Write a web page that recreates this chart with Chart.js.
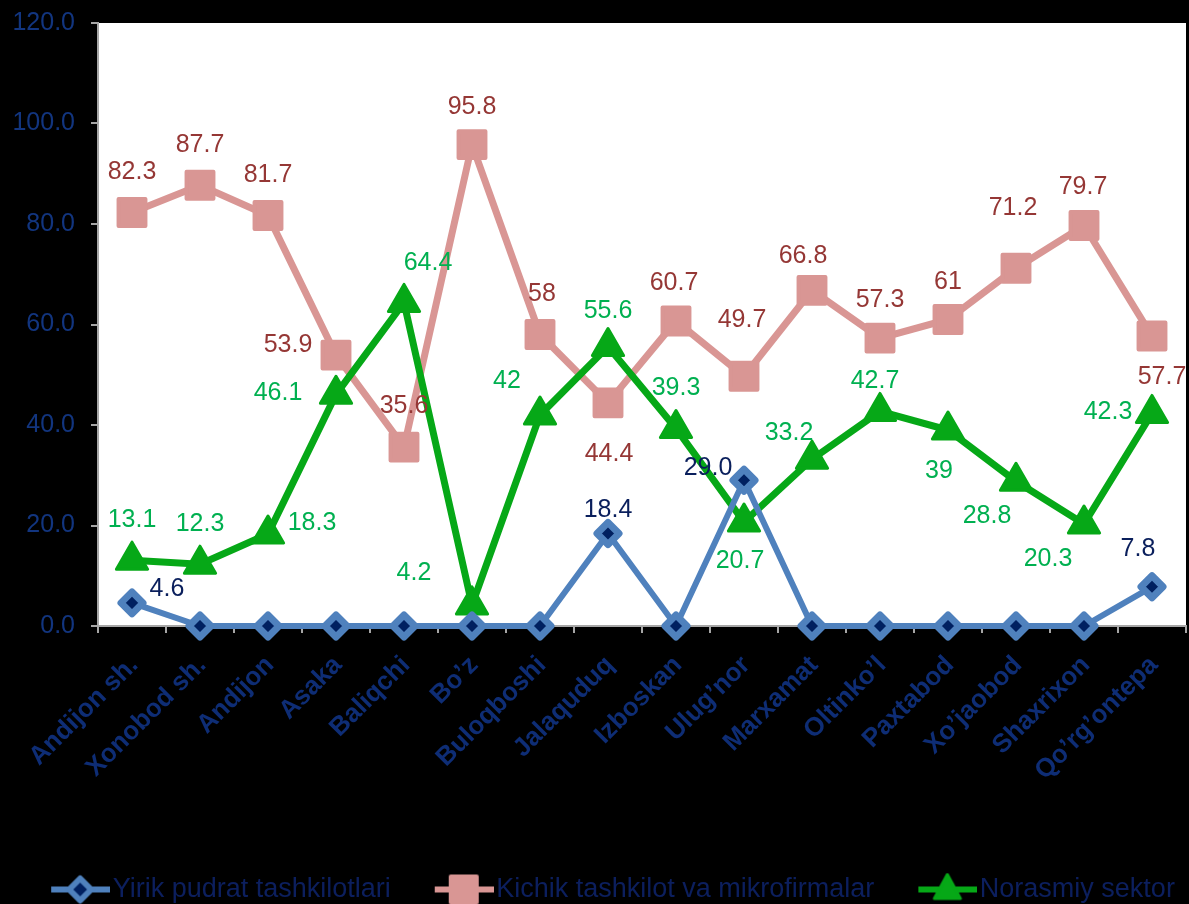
<!DOCTYPE html>
<html>
<head>
<meta charset="utf-8">
<script src="https://cdn.jsdelivr.net/npm/chart.js@4/dist/chart.umd.min.js"></script>
<style>
  html, body { margin: 0; padding: 0; background: #000; }
  #wrap { width: 1189px; height: 904px; }
</style>
</head>
<body>
<div id="wrap"><canvas id="chart"></canvas></div>
<script>
// data
const categories = ['Andijon sh.', 'Xonobod sh.', 'Andijon', 'Asaka', 'Baliqchi', 'Bo’z', 'Buloqboshi',
  'Jalaquduq', 'Izboskan', 'Ulug’nor', 'Marxamat', 'Oltinko’l', 'Paxtabod', 'Xo’jaobod', 'Shaxrixon', 'Qo’rg’ontepa'];
const seriesNames = ['Yirik pudrat tashkilotlari', 'Kichik tashkilot va mikrofirmalar', 'Norasmiy sektor'];
const yirikValues = [4.6, 0, 0, 0, 0, 0, 0, 18.4, 0, 29.0, 0, 0, 0, 0, 0, 7.8];
const kichikValues = [82.3, 87.7, 81.7, 53.9, 35.6, 95.8, 58, 44.4, 60.7, 49.7, 66.8, 57.3, 61, 71.2, 79.7, 57.7];
const norasmiyValues = [13.1, 12.3, 18.3, 46.1, 64.4, 4.2, 42, 55.6, 39.3, 20.7, 33.2, 42.7, 39, 28.8, 20.3, 42.3];
const yMin = 0, yMax = 120, yStep = 20;

// where each value label sits relative to its marker (px); null = no label
const yirikLabelPos = [[35, -14], null, null, null, null, null, null, [0, -23], null, [-36, -12],
  null, null, null, null, null, [-14, -38]];
const kichikLabelPos = [[0, -40], [0, -40], [0, -40], [-48, -10], [0, -41], [0, -37], [2, -40], [1, 51],
  [-2, -38], [-2, -56], [-9, -34], [0, -38], [0, -37], [-3, -60], [-1, -38], [10, 41]];
const norasmiyLabelPos = [[0, -40], [0, -40], [44, -11], [-58, -1], [24, -39], [-58, -32], [-33, -34], [0, -36],
  [0, -40], [-4, 39], [-23, -26], [-5, -30], [-9, 41], [-29, 35], [-36, 35], [-44, -1]];

const BLUE = '#4F81BD', NAVY = '#002060', PINK = '#D99694', GREEN = '#06A817';
const TEXT_BLUE = '#0E2D75';
const FONT = '"Liberation Sans", Arial, sans-serif';

// legend swatch: a short line with the marker in its middle
function legendSwatch(kind) {
  const c = document.createElement('canvas');
  c.width = 110; c.height = 34;
  const g = c.getContext('2d');
  const x0 = 51, x1 = 110, cx = 80, cy = 17;
  g.lineJoin = 'round';
  g.lineWidth = 6;
  g.strokeStyle = kind === 'blue' ? BLUE : kind === 'pink' ? PINK : GREEN;
  g.beginPath(); g.moveTo(x0, cy); g.lineTo(x1, cy); g.stroke();
  if (kind === 'blue') {
    g.beginPath();
    g.moveTo(cx - 11, cy); g.lineTo(cx, cy - 11); g.lineTo(cx + 11, cy); g.lineTo(cx, cy + 11); g.closePath();
    g.fillStyle = NAVY; g.fill(); g.lineWidth = 6; g.stroke();
  } else if (kind === 'pink') {
    g.fillStyle = PINK; g.lineWidth = 4; g.strokeStyle = PINK;
    g.beginPath(); g.rect(cx - 13, cy - 13, 26, 26); g.fill(); g.stroke();
  } else {
    g.fillStyle = GREEN; g.lineWidth = 3;
    g.beginPath(); g.moveTo(cx, cy - 15); g.lineTo(cx + 13, cy + 9); g.lineTo(cx - 13, cy + 9); g.closePath();
    g.fill(); g.stroke();
  }
  return c;
}
const swatches = [legendSwatch('blue'), legendSwatch('pink'), legendSwatch('green')];

const backgroundPlugin = {
  id: 'bg',
  beforeDraw(chart) {
    const { ctx, chartArea: a } = chart;
    ctx.save();
    ctx.fillStyle = '#000';
    ctx.fillRect(0, 0, chart.width, chart.height);
    ctx.fillStyle = '#fff';
    ctx.fillRect(a.left, a.top, a.right - a.left, a.bottom - a.top);
    ctx.restore();
  }
};

const roundJoinPlugin = {
  id: 'roundJoin',
  beforeDatasetsDraw(chart) { chart.ctx.save(); chart.ctx.lineJoin = 'round'; },
  afterDatasetsDraw(chart) { chart.ctx.restore(); }
};

const valueLabelPlugin = {
  id: 'valueLabels',
  afterDatasetsDraw(chart) {
    const ctx = chart.ctx;
    ctx.save();
    ctx.font = '25px ' + FONT;
    ctx.textAlign = 'center';
    ctx.textBaseline = 'middle';
    chart.data.datasets.forEach((ds, i) => {
      const meta = chart.getDatasetMeta(i);
      ds.labelPos.forEach((p, j) => {
        if (!p) return;
        const pt = meta.data[j];
        ctx.fillStyle = ds.labelColor;
        ctx.fillText(ds.labelText(ds.data[j]), pt.x + p[0], pt.y + p[1]);
      });
    });
    ctx.restore();
  }
};

new Chart(document.getElementById('chart'), {
  type: 'line',
  data: {
    labels: categories,
    datasets: [
      {
        label: seriesNames[0],
        data: yirikValues,
        order: 0,
        borderColor: BLUE,
        borderWidth: 6,
        pointStyle: 'rectRot',
        pointRadius: 11,
        pointHoverRadius: 11,
        pointBorderWidth: 7,
        pointBackgroundColor: NAVY,
        pointBorderColor: BLUE,
        tension: 0,
        clip: false,
        labelPos: yirikLabelPos,
        labelColor: '#0A1F5C',
        labelText: v => v.toFixed(1)
      },
      {
        label: seriesNames[1],
        data: kichikValues,
        order: 2,
        borderColor: PINK,
        borderWidth: 7,
        pointStyle: 'rect',
        pointRadius: 19,
        pointHoverRadius: 19,
        pointBorderWidth: 4,
        pointBackgroundColor: PINK,
        pointBorderColor: PINK,
        tension: 0,
        clip: false,
        labelPos: kichikLabelPos,
        labelColor: '#953735',
        labelText: v => String(v)
      },
      {
        label: seriesNames[2],
        data: norasmiyValues,
        order: 1,
        borderColor: GREEN,
        borderWidth: 7,
        pointStyle: 'triangle',
        pointRadius: 18,
        pointHoverRadius: 18,
        pointBorderWidth: 3,
        pointBackgroundColor: GREEN,
        pointBorderColor: GREEN,
        tension: 0,
        clip: false,
        labelPos: norasmiyLabelPos,
        labelColor: '#00B050',
        labelText: v => String(v)
      }
    ]
  },
  options: {
    responsive: true,
    maintainAspectRatio: false,
    animation: false,
    layout: { autoPadding: false, padding: { top: 23, right: 3, left: 0, bottom: -9 } },
    plugins: {
      tooltip: { enabled: false },
      legend: {
        position: 'bottom',
        labels: {
          usePointStyle: true,
          pointStyleWidth: 88,
          padding: 4,
          color: '#0C1F5E',
          font: { family: FONT, size: 27 },
          generateLabels: chart => chart.data.datasets.map((ds, i) => ({
            text: ds.label,
            fillStyle: ds.borderColor,
            strokeStyle: ds.borderColor,
            fontColor: '#0C1F5E',
            lineWidth: 0,
            hidden: !chart.isDatasetVisible(i),
            datasetIndex: i,
            pointStyle: swatches[i],
            rotation: 0
          }))
        }
      }
    },
    scales: {
      x: {
        offset: true,
        afterFit: s => { s.height = 246; s.paddingLeft = 0; s.paddingRight = 0; },
        border: { color: '#A6A6A6', width: 2 },
        grid: { offset: true, drawOnChartArea: false, tickLength: 7, color: '#A6A6A6', lineWidth: 2 },
        ticks: {
          autoSkip: false,
          minRotation: 45,
          maxRotation: 45,
          padding: 17,
          labelOffset: 2,
          color: TEXT_BLUE,
          font: { family: FONT, size: 26, weight: 'bold' }
        }
      },
      y: {
        min: yMin,
        max: yMax,
        afterFit: s => { s.width = 98; s.paddingTop = 0; s.paddingBottom = 0; },
        border: { color: '#A6A6A6', width: 2 },
        grid: { drawOnChartArea: false, tickLength: 7, color: '#A6A6A6', lineWidth: 2 },
        ticks: {
          stepSize: yStep,
          padding: 16,
          color: '#12357F',
          font: { family: FONT, size: 25 },
          callback: v => v.toFixed(1)
        }
      }
    }
  },
  plugins: [backgroundPlugin, roundJoinPlugin, valueLabelPlugin]
});
</script>
</body>
</html>
